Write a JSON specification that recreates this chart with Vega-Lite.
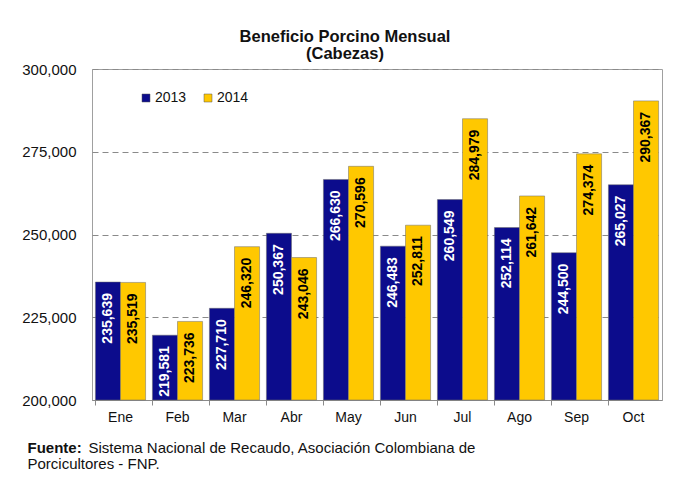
{
  "$schema": "https://vega.github.io/schema/vega-lite/v6.json",
  "width": 570,
  "height": 331,
  "autosize": {"type": "none"},
  "padding": {"left": 92, "top": 69, "right": 14, "bottom": 83},
  "background": "white",
  "title": {
    "text": ["Beneficio Porcino Mensual", "(Cabezas)"],
    "font": "Liberation Sans",
    "fontSize": 16.5,
    "fontWeight": "bold",
    "lineHeight": 17,
    "color": "#111111",
    "anchor": "middle",
    "frame": "group",
    "dx": -32,
    "offset": 0
  },
  "data": {
    "values": [
      {"month": "Ene", "year": "2013", "value": 235639},
      {"month": "Ene", "year": "2014", "value": 235519},
      {"month": "Feb", "year": "2013", "value": 219581},
      {"month": "Feb", "year": "2014", "value": 223736},
      {"month": "Mar", "year": "2013", "value": 227710},
      {"month": "Mar", "year": "2014", "value": 246320},
      {"month": "Abr", "year": "2013", "value": 250367},
      {"month": "Abr", "year": "2014", "value": 243046},
      {"month": "May", "year": "2013", "value": 266630},
      {"month": "May", "year": "2014", "value": 270596},
      {"month": "Jun", "year": "2013", "value": 246483},
      {"month": "Jun", "year": "2014", "value": 252811},
      {"month": "Jul", "year": "2013", "value": 260549},
      {"month": "Jul", "year": "2014", "value": 284979},
      {"month": "Ago", "year": "2013", "value": 252114},
      {"month": "Ago", "year": "2014", "value": 261642},
      {"month": "Sep", "year": "2013", "value": 244500},
      {"month": "Sep", "year": "2014", "value": 274374},
      {"month": "Oct", "year": "2013", "value": 265027},
      {"month": "Oct", "year": "2014", "value": 290367}
    ]
  },
  "encoding": {
    "y": {
      "field": "value",
      "type": "quantitative",
      "scale": {"domain": [200000, 300000], "zero": false, "nice": false},
      "axis": {
        "values": [200000, 225000, 250000, 275000, 300000],
        "labelExpr": "format(datum.value, ',')",
        "labelFont": "Liberation Sans",
        "labelFontSize": 15,
        "labelColor": "#111111",
        "labelPadding": 16,
        "ticks": false,
        "domain": false,
        "grid": true,
        "gridColor": "#8a8a8a",
        "gridDash": [6, 4],
        "gridWidth": 1,
        "title": "Fuente:",
        "titleFont": "Liberation Sans",
        "titleFontSize": 15,
        "titleFontWeight": "bold",
        "titleColor": "#111111",
        "titleAngle": 0,
        "titleAlign": "left",
        "titleBaseline": "alphabetic",
        "titleX": -65,
        "titleY": 383
      }
    },
    "xOffset": {"field": "year", "type": "nominal", "sort": ["2013", "2014"]}
  },
  "layer": [
    {
      "mark": {"type": "bar", "stroke": "#6b6b6b", "strokeWidth": 0.5},
      "encoding": {
        "x": {
          "field": "month",
          "type": "nominal",
          "sort": ["Ene", "Feb", "Mar", "Abr", "May", "Jun", "Jul", "Ago", "Sep", "Oct"],
          "scale": {"paddingInner": 0.12, "paddingOuter": 0.06},
          "axis": {
            "orient": "bottom",
            "labelAngle": 0,
            "labelFont": "Liberation Sans",
            "labelFontSize": 14,
            "labelColor": "#111111",
            "labelPadding": 5,
            "bandPosition": 0,
            "ticks": true,
            "tickColor": "#8a8a8a",
            "tickSize": 5,
            "domainColor": "#8a8a8a",
            "grid": false,
            "title": "Sistema Nacional de Recaudo, Asociación Colombiana de",
            "titleFont": "Liberation Sans",
            "titleFontSize": 15,
            "titleFontWeight": "normal",
            "titleColor": "#111111",
            "titleAlign": "left",
            "titleBaseline": "alphabetic",
            "titleX": -4,
            "titleY": 52
          }
        },
        "y2": {"datum": 200000},
        "color": {
          "field": "year",
          "type": "nominal",
          "scale": {"domain": ["2013", "2014"], "range": ["#0c0c8c", "#ffc800"]},
          "legend": {
            "orient": "none",
            "legendX": 47,
            "legendY": 22,
            "direction": "horizontal",
            "title": null,
            "symbolType": "square",
            "symbolSize": 64,
            "symbolStrokeWidth": 0.5,
            "symbolStrokeColor": "#555555",
            "labelFont": "Liberation Sans",
            "labelFontSize": 14,
            "labelColor": "#111111",
            "labelOffset": 2,
            "columnPadding": 14
          }
        }
      }
    },
    {
      "mark": {
        "type": "text",
        "angle": 270,
        "align": "right",
        "baseline": "middle",
        "dx": -11,
        "font": "Liberation Sans",
        "fontSize": 14,
        "fontWeight": "bold"
      },
      "encoding": {
        "x": {
          "field": "month",
          "type": "nominal",
          "sort": ["Ene", "Feb", "Mar", "Abr", "May", "Jun", "Jul", "Ago", "Sep", "Oct"],
          "axis": {
            "orient": "bottom",
            "labels": false,
            "ticks": false,
            "domain": false,
            "grid": false,
            "title": "Porcicultores - FNP.",
            "titleFont": "Liberation Sans",
            "titleFontSize": 15,
            "titleFontWeight": "normal",
            "titleColor": "#111111",
            "titleAlign": "left",
            "titleBaseline": "alphabetic",
            "titleX": -65,
            "titleY": 68
          }
        },
        "text": {"field": "value", "type": "quantitative", "format": ","},
        "color": {
          "condition": {"test": "datum.year == '2013'", "value": "#ffffff"},
          "value": "#000000"
        }
      }
    }
  ],
  "resolve": {"axis": {"x": "independent"}},
  "config": {
    "view": {"stroke": "#a0a0a0", "strokeWidth": 1}
  }
}
